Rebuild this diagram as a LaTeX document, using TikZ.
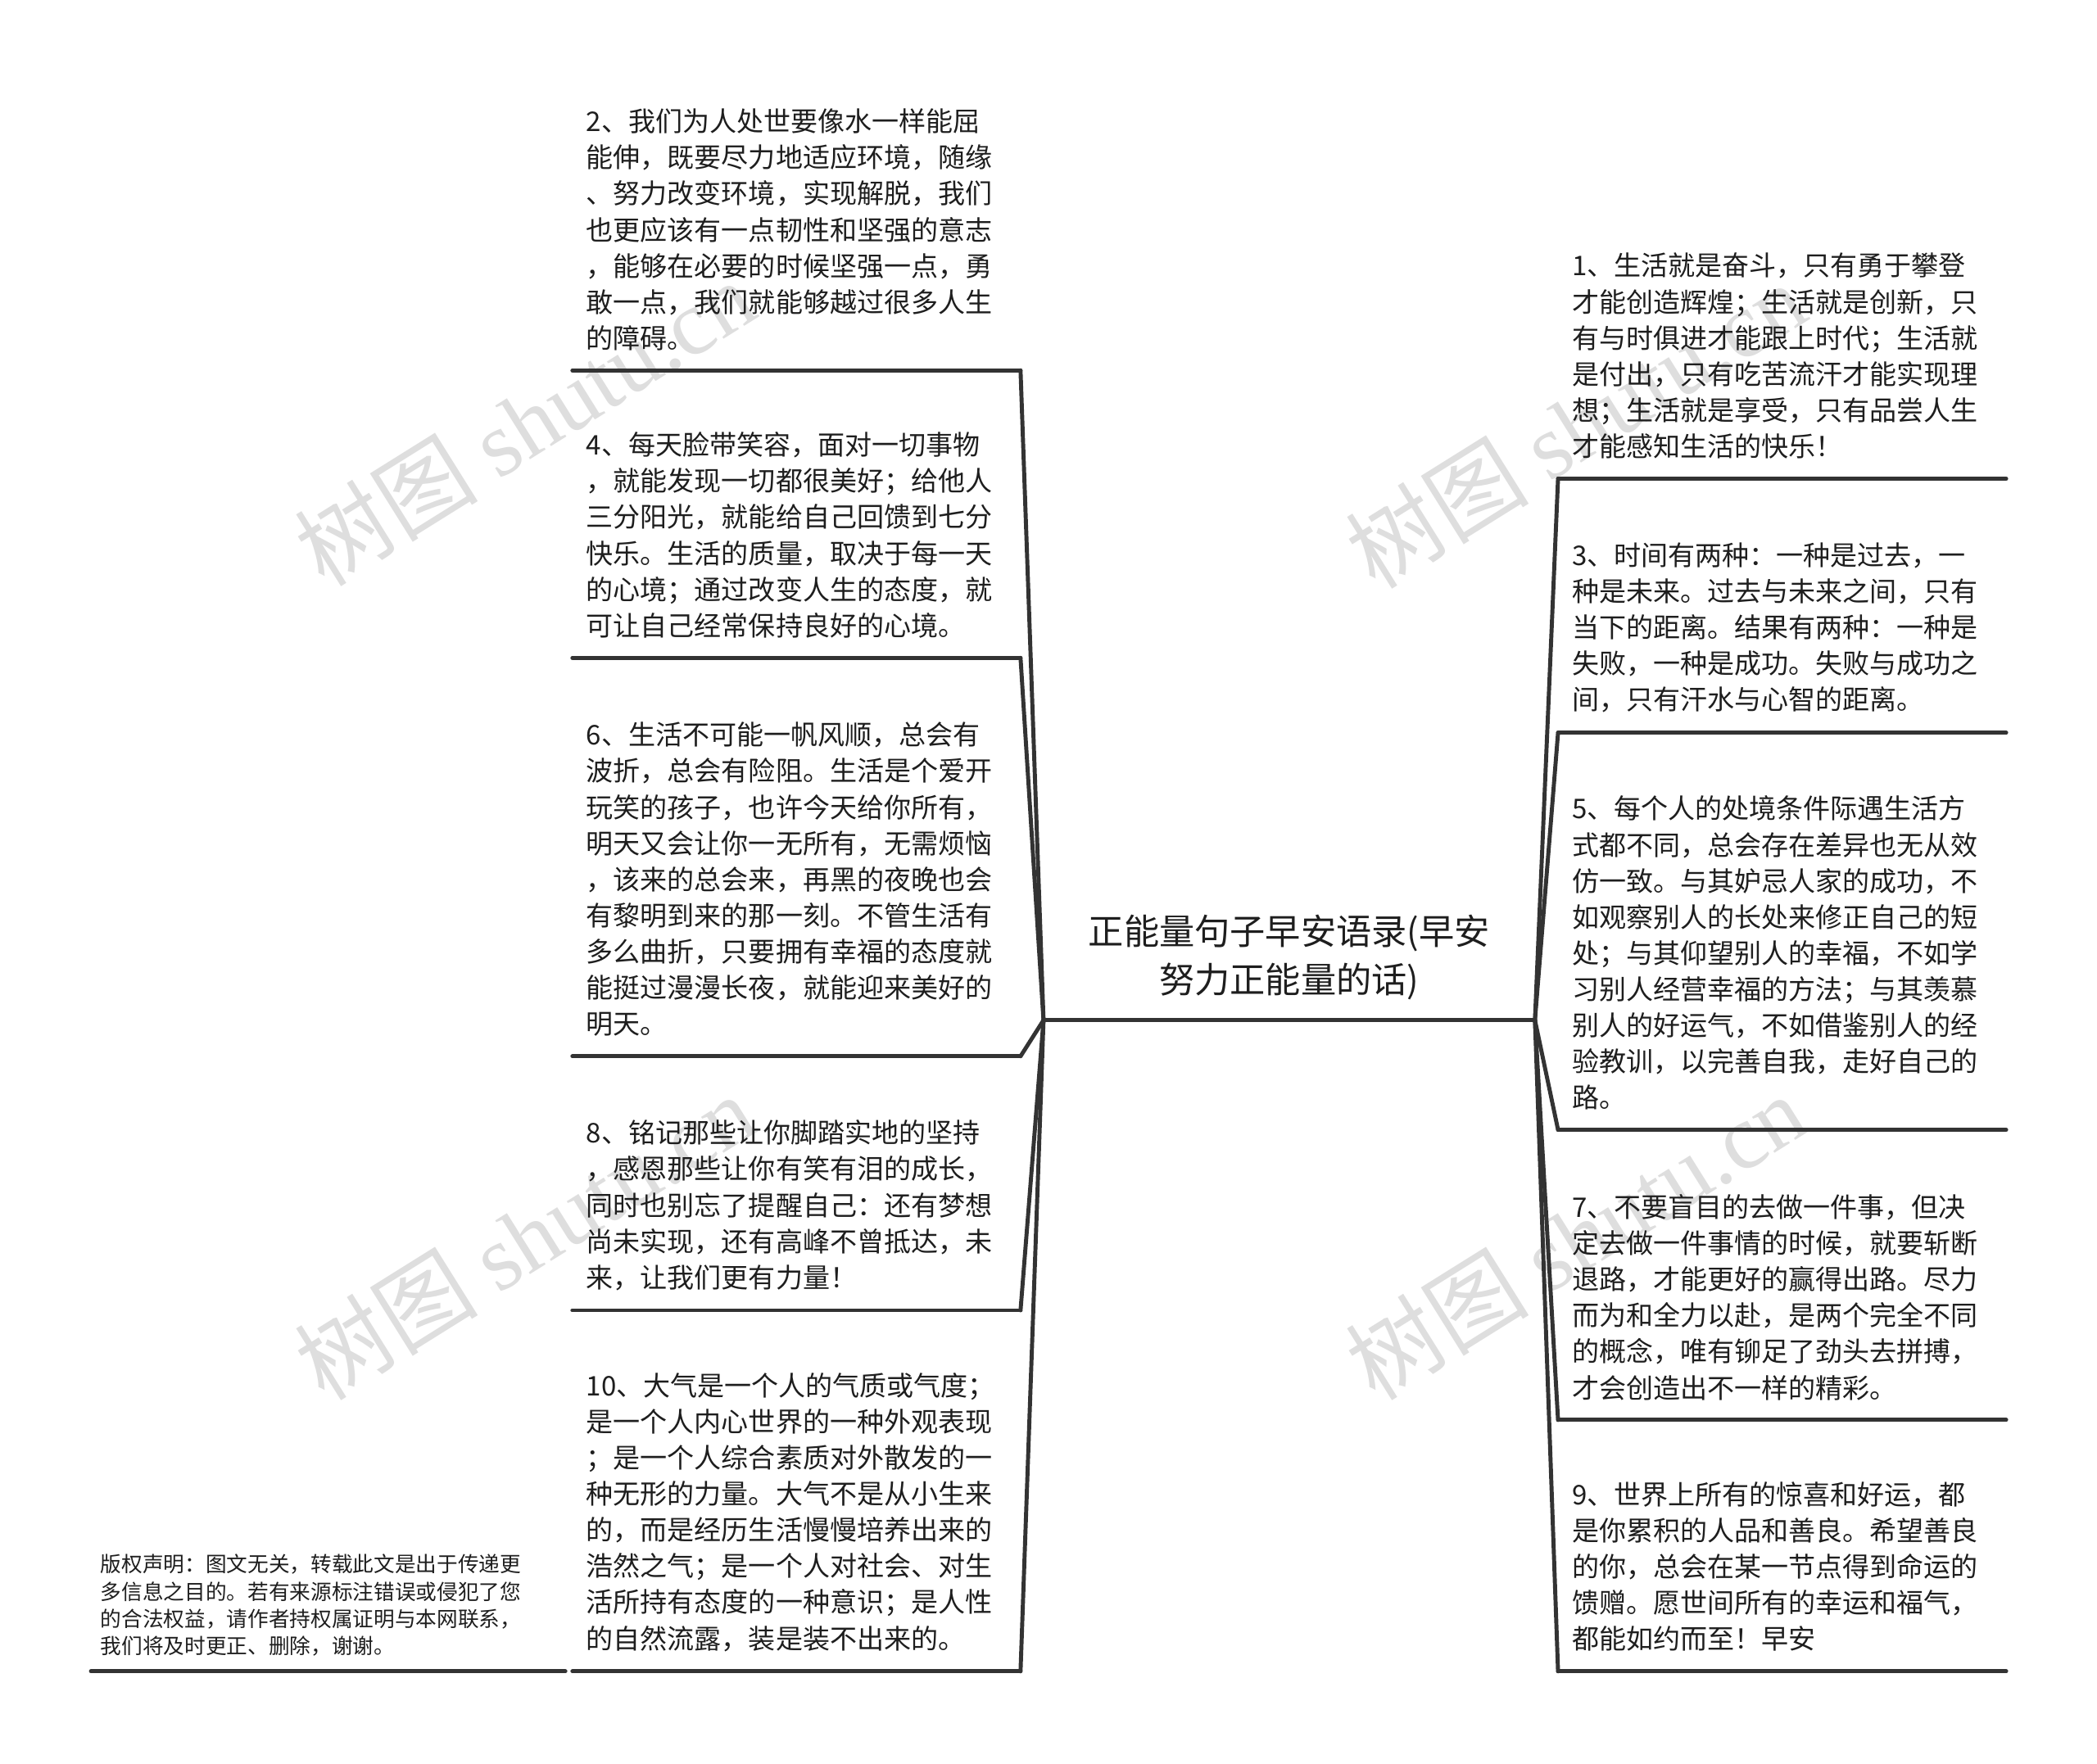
\documentclass[tikz,border=0pt]{standalone}
\usepackage{fontspec}
\setmainfont{Noto Sans CJK SC}
\newfontfamily\wmlatin{Liberation Serif}
\definecolor{linegrey}{RGB}{51,51,51}
\definecolor{textgrey}{RGB}{30,30,30}
\definecolor{markgrey}{RGB}{222,222,222}

\begin{document}
\begin{tikzpicture}[
    x=0.016327cm, y=-0.016327cm,
    leaf/.style={anchor=south west, text width=146pt, align=left, inner xsep=4.63pt, inner ysep=6.7pt, text=textgrey, font=\fontsize{9.4pt}{12.55pt}\selectfont},
    rootnode/.style={anchor=south, align=center, minimum width=170.3pt, inner ysep=9.3pt, text depth=0pt, text=textgrey, font=\fontsize{12.3pt}{16.7pt}\selectfont},
    note/.style={anchor=south west, text width=158pt, align=left, inner xsep=3.2pt, inner ysep=5pt, text=textgrey, font=\fontsize{7.3pt}{9.5pt}\selectfont},
    wmark/.style={rotate=32, text=markgrey, font=\fontsize{32pt}{32pt}\selectfont},
    link/.style={draw=linegrey, line width=1.4pt, line cap=round}
]
\useasboundingbox[fill=white] (0,0) rectangle (1568,1319);

% Watermarks
\node[wmark] (wm1) at (392,316) {树图 {\wmlatin shutu.cn}};
\node[wmark] (wm2) at (392,925) {树图 {\wmlatin shutu.cn}};
\node[wmark] (wm3) at (1178,318) {树图 {\wmlatin shutu.cn}};
\node[wmark] (wm4) at (1178,925) {树图 {\wmlatin shutu.cn}};

% Nodes
\node[rootnode] (root) at (964,763) {正能量句子早安语录(早安\\努力正能量的话)};

\node[leaf] (l2) at (428,277) {2、我们为人处世要像水一样能屈\\能伸，既要尽力地适应环境，随缘\\、努力改变环境，实现解脱，我们\\也更应该有一点韧性和坚强的意志\\，能够在必要的时候坚强一点，勇\\敢一点，我们就能够越过很多人生\\的障碍。};
\node[leaf] (l4) at (428,492) {4、每天脸带笑容，面对一切事物\\，就能发现一切都很美好；给他人\\三分阳光，就能给自己回馈到七分\\快乐。生活的质量，取决于每一天\\的心境；通过改变人生的态度，就\\可让自己经常保持良好的心境。};
\node[leaf] (l6) at (428,790) {6、生活不可能一帆风顺，总会有\\波折，总会有险阻。生活是个爱开\\玩笑的孩子，也许今天给你所有，\\明天又会让你一无所有，无需烦恼\\，该来的总会来，再黑的夜晚也会\\有黎明到来的那一刻。不管生活有\\多么曲折，只要拥有幸福的态度就\\能挺过漫漫长夜，就能迎来美好的\\明天。};
\node[leaf] (l8) at (428,980) {8、铭记那些让你脚踏实地的坚持\\，感恩那些让你有笑有泪的成长，\\同时也别忘了提醒自己：还有梦想\\尚未实现，还有高峰不曾抵达，未\\来，让我们更有力量！};
\node[leaf] (l10) at (428,1250) {10、大气是一个人的气质或气度；\\是一个人内心世界的一种外观表现\\；是一个人综合素质对外散发的一\\种无形的力量。大气不是从小生来\\的，而是经历生活慢慢培养出来的\\浩然之气；是一个人对社会、对生\\活所持有态度的一种意识；是人性\\的自然流露，装是装不出来的。};

\node[leaf] (r1) at (1165,358) {1、生活就是奋斗，只有勇于攀登\\才能创造辉煌；生活就是创新，只\\有与时俱进才能跟上时代；生活就\\是付出，只有吃苦流汗才能实现理\\想；生活就是享受，只有品尝人生\\才能感知生活的快乐！};
\node[leaf] (r3) at (1165,548) {3、时间有两种：一种是过去，一\\种是未来。过去与未来之间，只有\\当下的距离。结果有两种：一种是\\失败，一种是成功。失败与成功之\\间，只有汗水与心智的距离。};
\node[leaf] (r5) at (1165,845) {5、每个人的处境条件际遇生活方\\式都不同，总会存在差异也无从效\\仿一致。与其妒忌人家的成功，不\\如观察别人的长处来修正自己的短\\处；与其仰望别人的幸福，不如学\\习别人经营幸福的方法；与其羡慕\\别人的好运气，不如借鉴别人的经\\验教训，以完善自我，走好自己的\\路。};
\node[leaf] (r7) at (1165,1062) {7、不要盲目的去做一件事，但决\\定去做一件事情的时候，就要斩断\\退路，才能更好的赢得出路。尽力\\而为和全力以赴，是两个完全不同\\的概念，唯有铆足了劲头去拼搏，\\才会创造出不一样的精彩。};
\node[leaf] (r9) at (1165,1250) {9、世界上所有的惊喜和好运，都\\是你累积的人品和善良。希望善良\\的你，总会在某一节点得到命运的\\馈赠。愿世间所有的幸运和福气，\\都能如约而至！早安};

\node[note] (note) at (68,1250) {版权声明：图文无关，转载此文是出于传递更\\多信息之目的。若有来源标注错误或侵犯了您\\的合法权益，请作者持权属证明与本网联系，\\我们将及时更正、删除，谢谢。};

% Underlines
\foreach \n in {root,l2,l4,l6,l8,l10,r1,r3,r5,r7,r9,note}
    \path[link] (\n.south west) -- (\n.south east);

% Connectors
\foreach \n in {l2,l4,l6,l8,l10}
    \path[link] (root.south west) -- (\n.south east);
\foreach \n in {r1,r3,r5,r7,r9}
    \path[link] (root.south east) -- (\n.south west);

\end{tikzpicture}
\end{document}
